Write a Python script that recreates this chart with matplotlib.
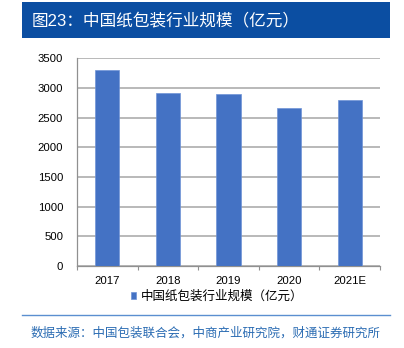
import matplotlib
matplotlib.use("Agg")
import matplotlib.pyplot as plt
from matplotlib.patches import Rectangle

plt.rcParams['font.family'] = ['Liberation Sans', 'Noto Sans CJK SC', 'DejaVu Sans']

years = ["2017", "2018", "2019", "2020", "2021E"]
market_size = [3300, 2920, 2890, 2670, 2790]
y_ticks = [0, 500, 1000, 1500, 2000, 2500, 3000, 3500]
series_name = "中国纸包装行业规模（亿元）"
title_text = "图23：中国纸包装行业规模（亿元）"
source_text = "数据来源：中国包装联合会，中商产业研究院，财通证券研究所"

W, H = 404, 348
fig = plt.figure(figsize=(W / 100, H / 100), dpi=100)

# title banner
fig.patches.append(Rectangle((22 / W, 1 - 38 / H), 368 / W, 36 / H,
                             transform=fig.transFigure, facecolor="#0B4EA2",
                             edgecolor="none", zorder=0))
fig.text(32 / W, 1 - 20 / H, title_text, color="white", fontsize=12,
         va="center", ha="left")

ax = fig.add_axes([77 / W, 1 - 266 / H, 303 / W, (266 - 58.3) / H])
x = list(range(len(years)))
bars = ax.bar(x, market_size, width=0.4, color="#4472C4",
              edgecolor="#6f93d6", linewidth=0.5, label=series_name, zorder=3)

ax.set_xlim(-0.5, len(years) - 0.5)
ax.set_ylim(0, 3500)
ax.set_yticks(y_ticks)
ax.set_yticklabels([str(v) for v in y_ticks], fontsize=8.2)
ax.set_xticks(x)
ax.set_xticklabels(years, fontsize=8.2)
ax.set_xticks([i - 0.5 for i in range(len(years) + 1)], minor=True)
ax.tick_params(axis="x", which="major", length=0, pad=7)
ax.tick_params(axis="x", which="minor", length=3, color="#909090", width=0.8)
ax.tick_params(axis="y", length=0, pad=10)
ax.yaxis.grid(True, color="#a6a6a6", linewidth=1.1, zorder=0)
ax.set_axisbelow(True)
for side in ("top", "right"):
    ax.spines[side].set_visible(False)
for side in ("left", "bottom"):
    ax.spines[side].set_color("#909090")
    ax.spines[side].set_linewidth(0.9)

leg = ax.legend(loc="center", bbox_to_anchor=(217 / W, 1 - 297 / H),
                bbox_transform=fig.transFigure, frameon=False, fontsize=9,
                handlelength=0.45, handleheight=0.45, handletextpad=0.35,
                borderpad=0)

# footer rule and source note
fig.add_artist(plt.Line2D([22 / W, 390 / W], [1 - 315 / H, 1 - 315 / H],
                          transform=fig.transFigure, color="#5B8FD0",
                          linewidth=1.0))
fig.text(31 / W, 1 - 333 / H, source_text, color="#2B6CB3", fontsize=9,
         va="center", ha="left")

fig.savefig("out.png", dpi=100)
